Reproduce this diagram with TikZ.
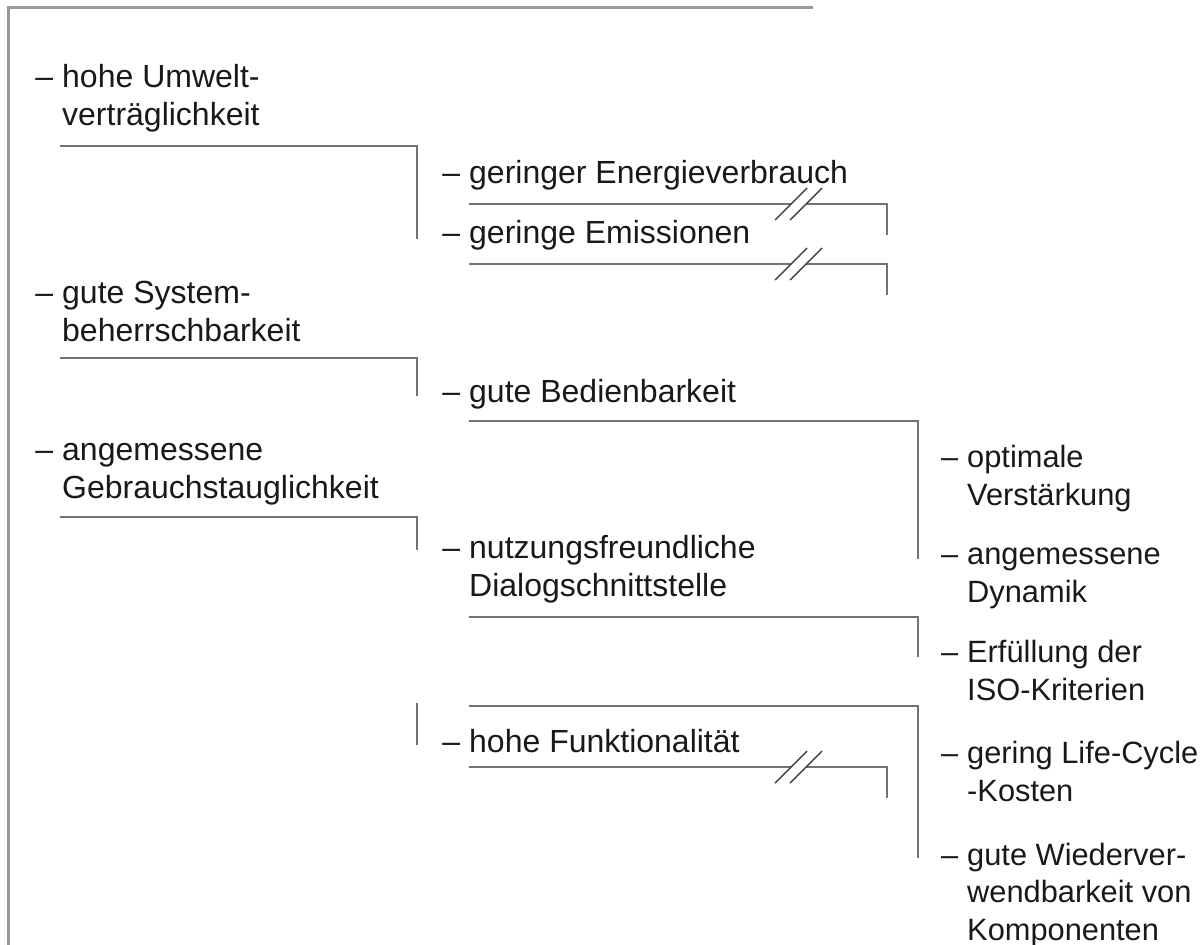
\documentclass[tikz,border=0pt]{standalone}
\usepackage{fontspec}
\setmainfont{Liberation Sans}
\newcommand{\stri}{\llap{–\hspace{9pt}}}
\begin{document}
\begin{tikzpicture}[x=1pt, y=-1pt,
    entry/.style={anchor=base west, inner sep=0pt, align=left,
      font=\fontsize{32}{37.5}\selectfont, text=black!90},
    small/.style={font=\fontsize{30.8}{37.5}\selectfont},
    bracket/.style={color=black!55, line width=1.6pt},
    slash/.style={color=black!75, line width=1.4pt},
    frame/.style={color=black!40, line width=3pt}
  ]
  \useasboundingbox (0,0) rectangle (1200,945);
  \draw [frame] (813,7) -- (8,7) -- (8,945);
  % first level (base = last line)
  \node [entry] (umw) at (62,125) {\stri hohe Umwelt-\\verträglichkeit};
  \node [entry] (sys) at (62,341) {\stri gute System-\\beherrschbarkeit};
  \node [entry] (geb) at (62,498) {\stri angemessene\\Gebrauchstauglichkeit};
  % second level
  \node [entry] (ene) at (469,183) {\stri geringer Energieverbrauch};
  \node [entry] (emi) at (469,243) {\stri geringe Emissionen};
  \node [entry] (bed) at (469,402) {\stri gute Bedienbarkeit};
  \node [entry] (nut) at (469,596) {\stri nutzungsfreundliche\\Dialogschnittstelle};
  \node [entry] (fkt) at (469,752) {\stri hohe Funktionalität};
  % third level
  \node [entry, small] (opt) at (967,505) {\stri optimale\\Verstärkung};
  \node [entry, small] (dyn) at (967,602) {\stri angemessene\\Dynamik};
  \node [entry, small] (iso) at (967,700) {\stri Erfüllung der\\ISO-Kriterien};
  \node [entry, small] (lcc) at (967,801) {\stri gering Life-Cycle\\-Kosten};
  \node [entry, small] (wie) at (967,940) {\stri gute Wiederver-\\wendbarkeit von\\Komponenten};
  % brackets
  \draw [bracket] ([xshift=-2]umw.base west) ++(0,21) -| ([shift={(-52,-4)}]emi.base west);
  \draw [bracket] ([xshift=-2]sys.base west) ++(0,17) -| ([shift={(-52,-6)}]bed.base west);
  \draw [bracket] ([xshift=-2]geb.base west) ++(0,19) -| ([shift={(-52,-46)}]nut.base west);
  \draw [bracket] (bed.base west) ++(0,19) -| ([shift={(-49,-43)}]dyn.base west);
  \draw [bracket] (nut.base west) ++(0,21) -| ([shift={(-49,-43)}]iso.base west);
  \draw [bracket] ([shift={(-52,-49)}]fkt.base west) -- ++(0,42);
  \draw [bracket] ([shift={(0,-46)}]fkt.base west) -| ([shift={(-49,-82)}]wie.base west);
  % interrupted lines
  \foreach \n/\d in {ene/21, emi/21, fkt/15} {
    \draw [bracket] (\n.base west) ++(0,\d) -- ++(322,0) ++(15,0) -- ++(81,0) -- ++(0,31);
    \draw [slash] ([shift={(306,\d+16)}]\n.base west) -- ++(32,-32);
    \draw [slash] ([shift={(321,\d+16)}]\n.base west) -- ++(32,-32);
  }
\end{tikzpicture}
\end{document}
